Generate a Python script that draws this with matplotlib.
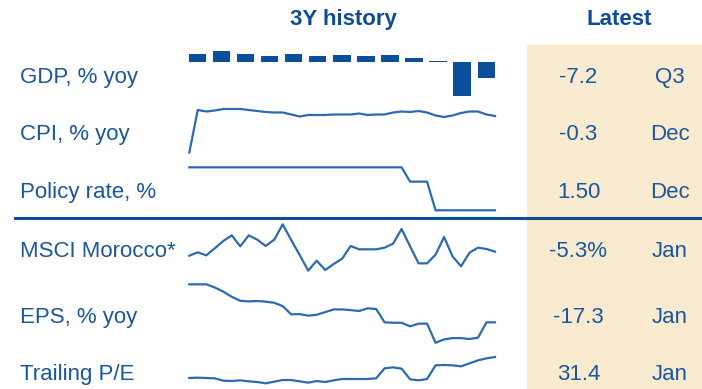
import matplotlib
matplotlib.use("Agg")
import matplotlib.pyplot as plt
from matplotlib.patches import Rectangle
from matplotlib.lines import Line2D
import numpy as np

# ---------------- data ----------------
row_labels = ["GDP, % yoy", "CPI, % yoy", "Policy rate, %",
              "MSCI Morocco*", "EPS, % yoy", "Trailing P/E"]
latest_values = ["-7.2", "-0.3", "1.50", "-5.3%", "-17.3", "31.4"]
latest_periods = ["Q3", "Dec", "Dec", "Jan", "Jan", "Jan"]

gdp = [3.5, 4.9, 3.5, 2.8, 3.4, 2.8, 3.0, 2.8, 3.0, 1.9, 0.3, -15.0, -7.2]

cpi = [-7.6, 0.9, 0.6, 0.8, 1.1, 1.1, 1.1, 0.9, 0.7, 0.5, 0.4, 0.4, 0.0,
       -0.4, -0.1, -0.1, -0.1, 0.0, 0.0, 0.0, 0.2, -0.1, 0.0, 0.0, 0.4,
       0.6, 0.5, 0.7, 0.4, -0.2, -0.5, -0.2, 0.3, 0.6, 0.6, 0.0, -0.3]

policy_rate = [2.25, 2.25, 2.25, 2.25, 2.25, 2.25, 2.25, 2.25, 2.25, 2.25,
               2.25, 2.25, 2.25, 2.25, 2.25, 2.25, 2.25, 2.25, 2.25, 2.25,
               2.25, 2.25, 2.25, 2.25, 2.25, 2.25, 2.00, 2.00, 2.00, 1.50,
               1.50, 1.50, 1.50, 1.50, 1.50, 1.50, 1.50]

msci = [100.0, 102.0, 100.2, 104.4, 108.8, 112.2, 105.6, 112.2, 109.6, 105.8,
        109.6, 118.8, 109.4, 100.4, 91.0, 97.0, 91.4, 95.0, 98.2, 105.8,
        103.8, 103.8, 103.8, 104.8, 107.2, 116.0, 105.6, 95.4, 95.4, 100.6,
        111.2, 99.6, 93.6, 101.8, 104.8, 104.0, 102.4]

eps = [-0.2, -0.2, -0.2, -1.6, -3.5, -5.8, -7.6, -7.9, -7.7, -8.0, -8.5,
       -10.0, -13.7, -13.6, -14.3, -13.9, -12.7, -11.5, -11.5, -11.8, -12.2,
       -11.0, -11.3, -17.3, -17.5, -17.5, -19.1, -17.9, -17.9, -26.5, -25.0,
       -24.4, -24.4, -24.8, -24.2, -17.3, -17.3]

trailing_pe = [25.1, 25.2, 25.1, 25.0, 24.3, 24.2, 24.4, 24.1, 23.9, 23.5,
               24.0, 24.5, 24.5, 24.1, 23.7, 24.2, 23.9, 24.4, 24.8, 24.8,
               24.8, 24.8, 25.0, 28.0, 28.3, 27.9, 24.7, 24.4, 24.8, 28.9,
               29.0, 28.9, 28.6, 29.5, 30.4, 31.0, 31.4]

# ---------------- style ----------------
W, H = 702, 389
TEXT = "#1B569E"
HEAD = "#0E4C96"
BAR = "#0B4F9C"
LINE = "#2C6BB0"
BEIGE = "#F9EBCF"
FONT = "Liberation Sans"

fig = plt.figure(figsize=(W / 100, H / 100), dpi=100)
fig.patch.set_facecolor("white")


def fx(px):
    return px / W


def fy(py):
    return 1 - py / H


# beige panel for latest values
fig.add_artist(Rectangle((fx(527), 0), fx(702) - fx(527), fy(44.5),
                         transform=fig.transFigure, facecolor=BEIGE,
                         edgecolor="none", zorder=0))
# separator line
fig.add_artist(Line2D([fx(15), 1.0], [fy(218), fy(218)], color=BAR,
                      lw=2.2, transform=fig.transFigure, zorder=3))

# headers
fig.text(fx(343.5), fy(25), "3Y history", ha="center", va="baseline",
         fontsize=16, fontweight="bold", color=HEAD, family=FONT)
fig.text(fx(619.5), fy(25), "Latest", ha="center", va="baseline",
         fontsize=16, fontweight="bold", color=HEAD, family=FONT)

baselines = [83, 140, 198, 257, 323, 380]
for lab, val, per, b in zip(row_labels, latest_values, latest_periods, baselines):
    fig.text(fx(20), fy(b), lab, ha="left", va="baseline", fontsize=16,
             color=TEXT, family=FONT)
    fig.text(fx(578.5), fy(b), val, ha="center", va="baseline", fontsize=16,
             color=TEXT, family=FONT)
    fig.text(fx(669.5), fy(b), per, ha="center", va="baseline", fontsize=16,
             color=TEXT, family=FONT)


def spark_axes(top_px, bot_px, xlim, ref_v, ref_px, ppu,
               left_px=189.3, right_px=495.0):
    ax = fig.add_axes([fx(left_px), fy(bot_px), (right_px - left_px) / W,
                       (bot_px - top_px) / H])
    ax.set_xlim(*xlim)
    ax.set_ylim(ref_v - (bot_px - ref_px) / ppu, ref_v + (ref_px - top_px) / ppu)
    ax.axis("off")
    ax.patch.set_alpha(0)
    return ax


# GDP bars
ax = spark_axes(45, 110, (-0.328, 12.361), 0.0, 62.0, 2.26)
ax.bar(np.arange(len(gdp)), gdp, width=0.727, color=BAR, linewidth=0)

# line sparklines
specs = [
    (cpi, 100, 160, -0.3, 116.0, 5.0),
    (policy_rate, 160, 215, 1.50, 210.3, 57.3),
    (msci, 220, 280, 100.0, 255.67, 1.6667),
    (eps, 280, 350, -17.3, 322.33, 2.2222),
    (trailing_pe, 350, 389, 31.4, 357.0, 3.3333),
]
for series, top, bot, rv, rp, ppu in specs:
    ax = spark_axes(top, bot, (0, len(series) - 1), rv, rp, ppu)
    ax.plot(np.arange(len(series)), series, color=LINE, lw=1.6,
            clip_on=False, solid_joinstyle="round")

fig.savefig("out.png", dpi=100)
